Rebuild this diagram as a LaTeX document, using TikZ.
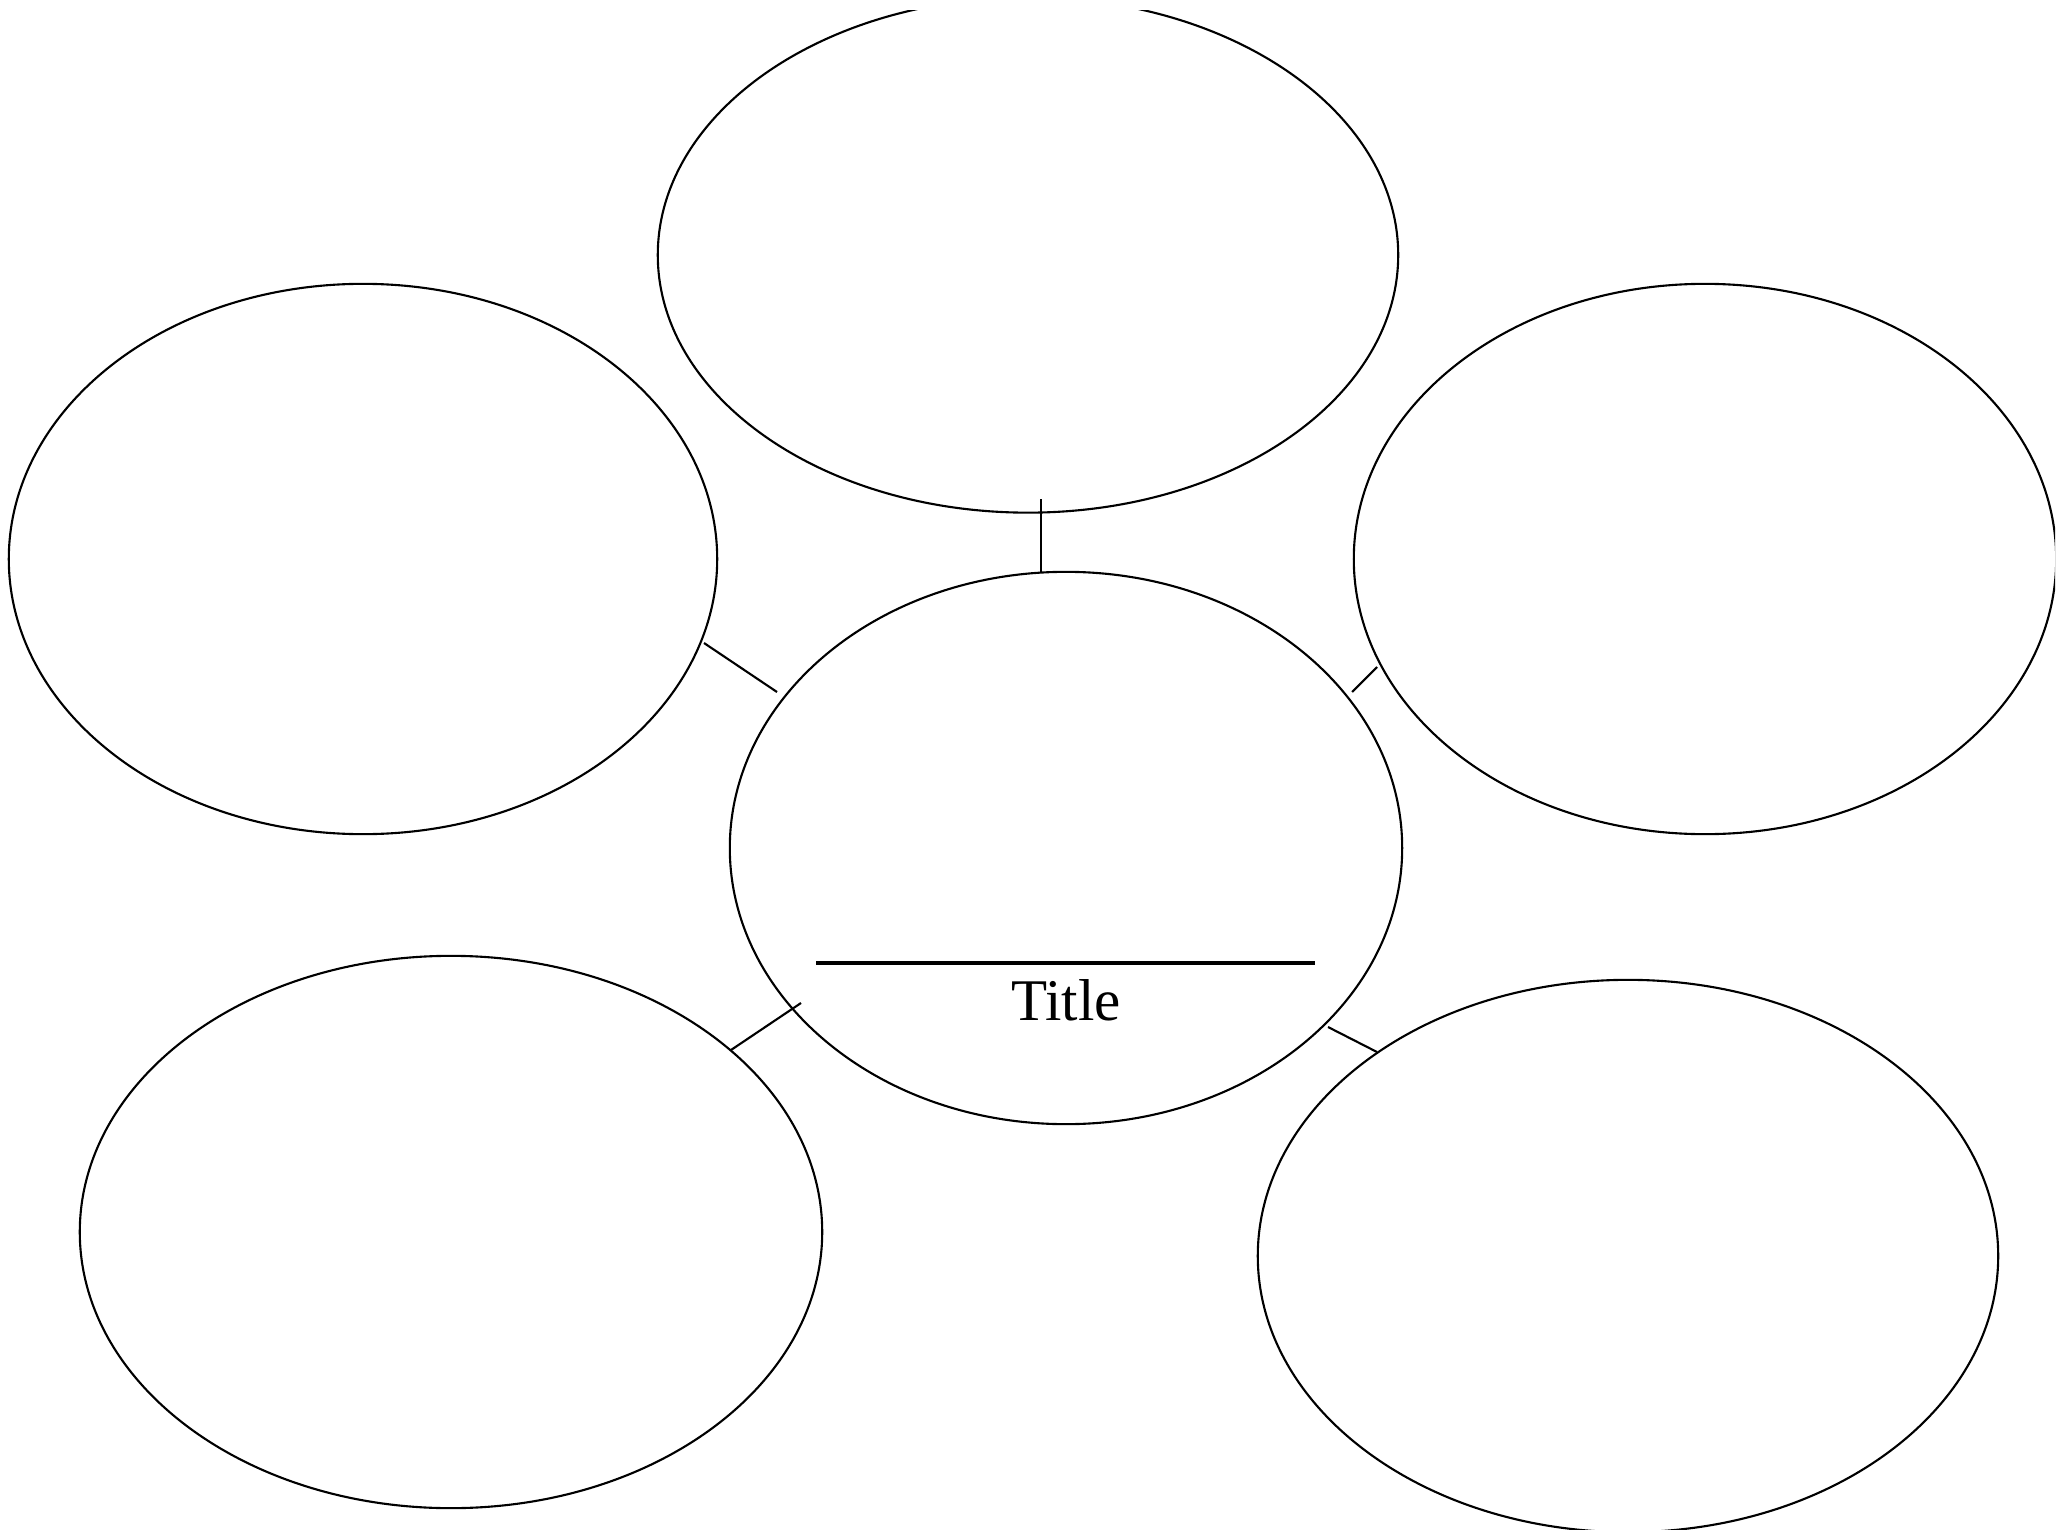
\documentclass[tikz,border=0pt]{standalone}
\usepackage{fontspec}
\setmainfont{Liberation Serif}
\usetikzlibrary{shapes.geometric}
\begin{document}
\begin{tikzpicture}[x=0.01cm,y=-0.01cm,
  bubble/.style={draw,ellipse,inner sep=0pt,line width=0.6pt},
  link/.style={draw,line width=0.6pt},
  rule/.style={draw,line width=1.15pt}]
\useasboundingbox (0,0) rectangle (2059,1530);
\clip (0,10) rectangle (2055,1530);
\node[bubble,minimum width=7.40cm,minimum height=5.15cm] (top) at (1028,255) {};
\node[bubble,minimum width=7.08cm,minimum height=5.50cm] (left) at (363,559) {};
\node[bubble,minimum width=7.02cm,minimum height=5.50cm] (right) at (1705,559) {};
\node[bubble,minimum width=6.72cm,minimum height=5.52cm] (center) at (1066,848) {};
\node[bubble,minimum width=7.42cm,minimum height=5.52cm] (bl) at (451,1232) {};
\node[bubble,minimum width=7.40cm,minimum height=5.52cm] (br) at (1628,1256) {};
\coordinate (c1a) at (1041,499);
\coordinate (c1b) at (1041,572);
\coordinate (c2a) at (704,643);
\coordinate (c2b) at (777,692);
\coordinate (c3a) at (1352,692);
\coordinate (c3b) at (1377,667);
\coordinate (c4a) at (731,1050);
\coordinate (c4b) at (801,1003);
\coordinate (c5a) at (1328,1027);
\coordinate (c5b) at (1377,1052);
\draw[link] (c1a) -- (c1b);
\draw[link] (c2a) -- (c2b);
\draw[link] (c3a) -- (c3b);
\draw[link] (c4a) -- (c4b);
\draw[link] (c5a) -- (c5b);
\coordinate (ruleL) at (816,963);
\coordinate (ruleR) at (1315,963);
\draw[rule] (ruleL) -- (ruleR);
\node[anchor=base,inner sep=0pt,font=\fontsize{16.8pt}{20pt}\selectfont] (title) at (1066,1020) {Title};
\end{tikzpicture}
\end{document}
